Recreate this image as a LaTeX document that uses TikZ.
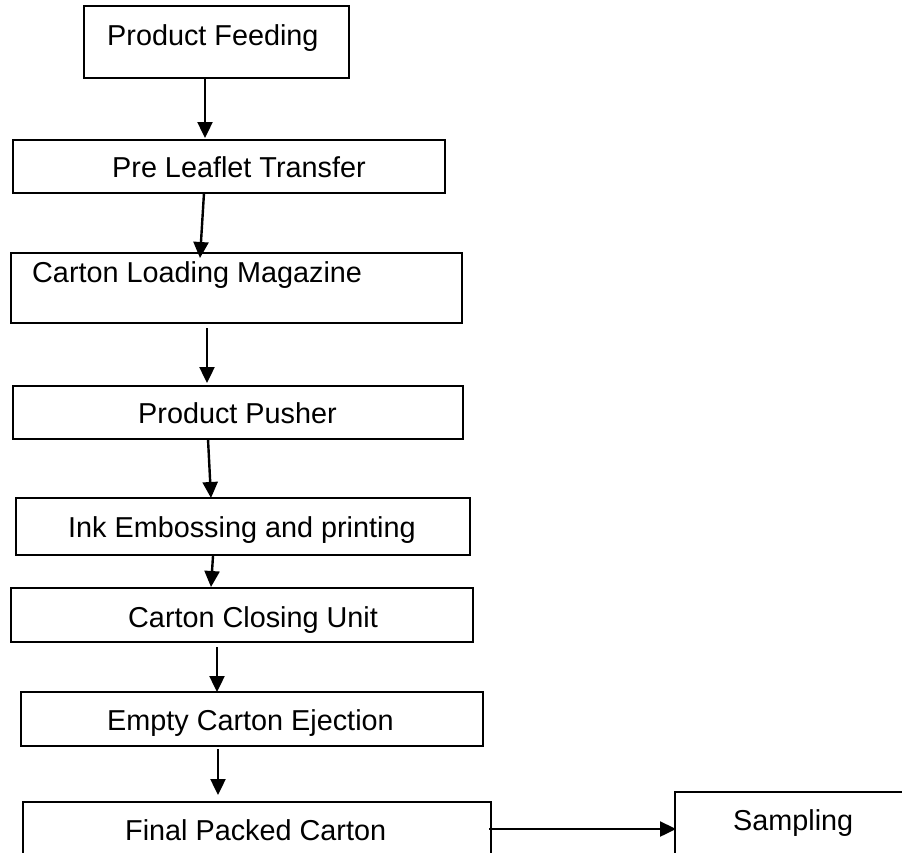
\documentclass[tikz,border=0pt]{standalone}
\usepackage{fontspec}
\setmainfont{Liberation Sans}
\usetikzlibrary{arrows.meta}

\begin{document}
\begin{tikzpicture}[x=1pt, y=-1pt,
  box/.style={draw, line width=2pt, rectangle, outer sep=0pt, inner sep=0pt, anchor=north west},
  lbl/.style={inner sep=0pt, anchor=base west, font=\fontsize{28.8}{34}\selectfont},
  arr/.style={line width=2.4pt, -{Triangle[length=16pt, width=15pt]}}]
\useasboundingbox (0,0) rectangle (902,852);
\clip (0,0) rectangle (902,852);

% process boxes
\node[box, minimum width=265pt, minimum height=72pt] (b1) at (84,6) {};
\node[box, minimum width=432pt, minimum height=53pt] (b2) at (13,140) {};
\node[box, minimum width=451pt, minimum height=70pt] (b3) at (11,253) {};
\node[box, minimum width=450pt, minimum height=53pt] (b4) at (13,386) {};
\node[box, minimum width=454pt, minimum height=57pt] (b5) at (16,498) {};
\node[box, minimum width=462pt, minimum height=54pt] (b6) at (11,588) {};
\node[box, minimum width=462pt, minimum height=54pt] (b7) at (21,692) {};
\node[box, minimum width=468pt, minimum height=80pt] (b8) at (23,802) {};
\node[box, minimum width=250pt, minimum height=90pt] (b9) at (675,792) {};

% box captions
\node[lbl] (t1) at (107,45)  {Product Feeding};
\node[lbl] (t2) at (112,177) {Pre Leaflet Transfer};
\node[lbl] (t3) at (32,282)  {Carton Loading Magazine};
\node[lbl] (t4) at (138,423) {Product Pusher};
\node[lbl] (t5) at (68,537)  {Ink Embossing and printing};
\node[lbl] (t6) at (128,627) {Carton Closing Unit};
\node[lbl] (t7) at (107,730) {Empty Carton Ejection};
\node[lbl] (t8) at (125,840) {Final Packed Carton};
\node[lbl] (t9) at (733,830) {Sampling};

% flow arrows
\draw[arr] ([xshift=121pt]b1.south west) -- ([xshift=192pt, yshift=2pt]b2.north west);
\draw[arr] ([xshift=191pt]b2.south west) -- ([xshift=189pt, yshift=-5pt]b3.north west);
\draw[arr] ([xshift=196pt, yshift=-5pt]b3.south west) -- ([xshift=194pt, yshift=3pt]b4.north west);
\draw[arr] ([xshift=195pt]b4.south west) -- ([xshift=195pt]b5.north west);
\draw[arr] ([xshift=197pt, yshift=-1pt]b5.south west) -- ([xshift=200pt, yshift=1pt]b6.north west);
\draw[arr] ([xshift=206pt, yshift=-5pt]b6.south west) -- ([xshift=196pt]b7.north west);
\draw[arr] ([xshift=197pt, yshift=-3pt]b7.south west) -- ([xshift=195pt, yshift=7pt]b8.north west);
\draw[arr] ([xshift=-2pt, yshift=-27pt]b8.north east) -- ([xshift=1pt, yshift=-37pt]b9.north west);
\end{tikzpicture}
\end{document}
